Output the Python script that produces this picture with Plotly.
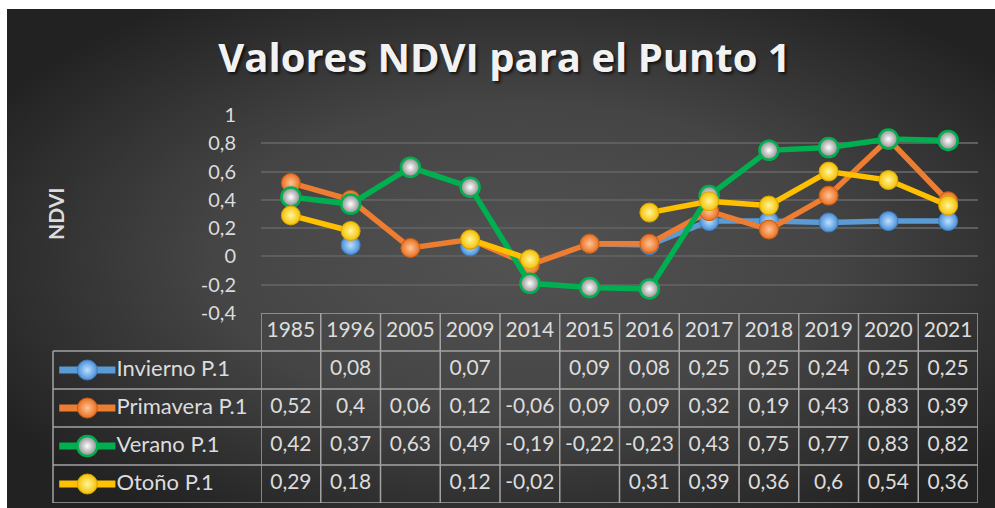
import base64
import plotly.graph_objects as go

years = ["1985", "1996", "2005", "2009", "2014", "2015", "2016", "2017", "2018", "2019", "2020", "2021"]
invierno = [None, 0.08, None, 0.07, None, 0.09, 0.08, 0.25, 0.25, 0.24, 0.25, 0.25]
primavera = [0.52, 0.4, 0.06, 0.12, -0.06, 0.09, 0.09, 0.32, 0.19, 0.43, 0.83, 0.39]
verano = [0.42, 0.37, 0.63, 0.49, -0.19, -0.22, -0.23, 0.43, 0.75, 0.77, 0.83, 0.82]
otono = [0.29, 0.18, None, 0.12, -0.02, None, 0.31, 0.39, 0.36, 0.6, 0.54, 0.36]
names = ["Invierno P.1", "Primavera P.1", "Verano P.1", "Otoño P.1"]
ytick_vals = [-0.4, -0.2, 0, 0.2, 0.4, 0.6, 0.8, 1]

series = [invierno, primavera, verano, otono]
line_colors = ["#5b9bd5", "#ed7d31", "#00b050", "#ffc000"]
marker_colors = ["#4a90d9", "#e8701f", "#8c8c8c", "#f5c000"]
marker_centers = ["#bfe0ff", "#ffc49a", "#ffffff", "#fff6a0"]
marker_lines = ["#3f7fc0", "#c95c14", "#00b050", "#d9a400"]
marker_lw = [1, 1, 2.5, 1]

TXT = "#dcdcdc"
GRID = "#5e5e5e"
BORDER = "#a3a3a3"


def fmt(v):
    if v is None:
        return ""
    return ("%g" % v).replace(".", ",")


fig = go.Figure()

# main series
for s, n, lc, mc, cc, ml, mw in zip(series, names, line_colors, marker_colors, marker_centers, marker_lines, marker_lw):
    fig.add_trace(go.Scatter(
        x=years, y=s, name=n, mode="lines+markers", connectgaps=False,
        line=dict(color=lc, width=5.5),
        marker=dict(size=19, color=mc, line=dict(color=ml, width=mw),
                    gradient=dict(type="radial", color=cc)),
        xaxis="x", yaxis="y", showlegend=False,
    ))

# table header (years)
fig.add_trace(go.Scatter(
    x=years, y=[0] * len(years), mode="text", text=years,
    textfont=dict(family="Lato", size=21, color=TXT),
    xaxis="x", yaxis="y2", showlegend=False, hoverinfo="skip",
))
# table values
for i, s in enumerate(series):
    fig.add_trace(go.Scatter(
        x=years, y=[i + 1] * len(years), mode="text", text=[fmt(v) for v in s],
        textfont=dict(family="Lato", size=21, color=TXT),
        xaxis="x", yaxis="y2", showlegend=False, hoverinfo="skip",
    ))

# legend keys in table
for i, (n, lc, mc, cc, ml, mw) in enumerate(zip(names, line_colors, marker_colors, marker_centers, marker_lines, marker_lw)):
    fig.add_trace(go.Scatter(
        x=[0.03, 0.30], y=[i + 1, i + 1], mode="lines",
        line=dict(color=lc, width=7), xaxis="x3", yaxis="y2",
        showlegend=False, hoverinfo="skip",
    ))
    fig.add_trace(go.Scatter(
        x=[0.165], y=[i + 1], mode="markers",
        marker=dict(size=20, color=mc, line=dict(color=ml, width=mw),
                    gradient=dict(type="radial", color=cc)),
        xaxis="x3", yaxis="y2", showlegend=False, hoverinfo="skip",
    ))
    fig.add_trace(go.Scatter(
        x=[0.305], y=[i + 1], mode="text", text=[n], textposition="middle right",
        textfont=dict(family="Lato", size=22, color=TXT),
        xaxis="x3", yaxis="y2", showlegend=False, hoverinfo="skip",
    ))

# table borders
shapes = []
n = len(years)
for k in range(n + 1):
    shapes.append(dict(type="line", xref="x", yref="y2", x0=k - 0.5, x1=k - 0.5,
                       y0=-0.5, y1=4.5, line=dict(color=BORDER, width=1.5)))
shapes.append(dict(type="line", xref="x", yref="y2", x0=-0.5, x1=n - 0.5,
                   y0=-0.5, y1=-0.5, line=dict(color=BORDER, width=1.5)))
for r in range(1, 6):
    shapes.append(dict(type="line", xref="paper", yref="y2", x0=0, x1=1,
                       y0=r - 0.5, y1=r - 0.5, line=dict(color=BORDER, width=1.5)))
shapes.append(dict(type="line", xref="paper", yref="y2", x0=0, x1=0,
                   y0=0.5, y1=4.5, line=dict(color=BORDER, width=1.5)))

W, H = 995, 508
L, R, T, B = 53, 17, 115, 5
pw, ph = W - L - R, H - T - B

svg = ('<svg xmlns="http://www.w3.org/2000/svg" width="988" height="499" viewBox="0 0 988 499" preserveAspectRatio="none">'
       '<defs><radialGradient id="g" cx="52%" cy="50%" r="62%">'
       '<stop offset="0" stop-color="#525252"/><stop offset="0.5" stop-color="#454545"/>'
       '<stop offset="1" stop-color="#222222"/></radialGradient></defs>'
       '<rect width="988" height="499" fill="url(#g)"/></svg>')
src = "data:image/svg+xml;base64," + base64.b64encode(svg.encode()).decode()
bg_x0, bg_y0 = 7, 9
fig.add_layout_image(dict(
    source=src, xref="paper", yref="paper",
    x=(bg_x0 - L) / pw, y=(H - B - bg_y0) / ph,
    sizex=(W - bg_x0) / pw, sizey=(H - bg_y0) / ph,
    xanchor="left", yanchor="top", sizing="stretch", layer="below",
))

split = 190 / ph
xstart = (261 - L) / pw

fig.update_layout(
    width=W, height=H,
    margin=dict(l=L, r=R, t=T, b=B, autoexpand=False),
    paper_bgcolor="white", plot_bgcolor="rgba(0,0,0,0)",
    separators=",.",
    shapes=shapes,
    title=dict(text="Valores NDVI para el Punto 1", x=504.5 / W, xanchor="center",
               y=1 - 58 / H, yanchor="middle", automargin=False,
               font=dict(family="Open Sans", size=40, weight=700, color="#f2f2f2",
                         shadow="2px 2px 3px rgba(0,0,0,0.7)")),
    xaxis=dict(type="category", domain=[xstart, 1], range=[-0.5, n - 0.5],
               showgrid=False, showticklabels=False, zeroline=False, anchor="y2",
               automargin=False),
    yaxis=dict(domain=[split, 1], range=[-0.4, 1], tickvals=ytick_vals,
               ticktext=[fmt(v) for v in ytick_vals], showgrid=True, gridcolor=GRID,
               gridwidth=1.5, zeroline=False, ticks="outside", ticklen=20,
               tickcolor="rgba(0,0,0,0)", tickfont=dict(family="Lato", size=20, color=TXT),
               anchor="x", automargin=False),
    yaxis2=dict(domain=[0, split], range=[4.5, -0.5], showgrid=False, showticklabels=False,
                zeroline=False, anchor="x", automargin=False),
    xaxis3=dict(domain=[0, xstart], range=[0, 1], showgrid=False, showticklabels=False,
                zeroline=False, anchor="y2", automargin=False),
    annotations=[dict(text="<b>NDVI</b>", xref="paper", yref="paper",
                      x=(55 - L) / pw, y=(H - B - 214) / ph, textangle=-90,
                      showarrow=False, xanchor="center", yanchor="middle",
                      font=dict(family="Lato", size=21, color=TXT))],
)

fig.write_html("out.html", config={"displayModeBar": False},
               post_script="document.body.style.margin='0';")
